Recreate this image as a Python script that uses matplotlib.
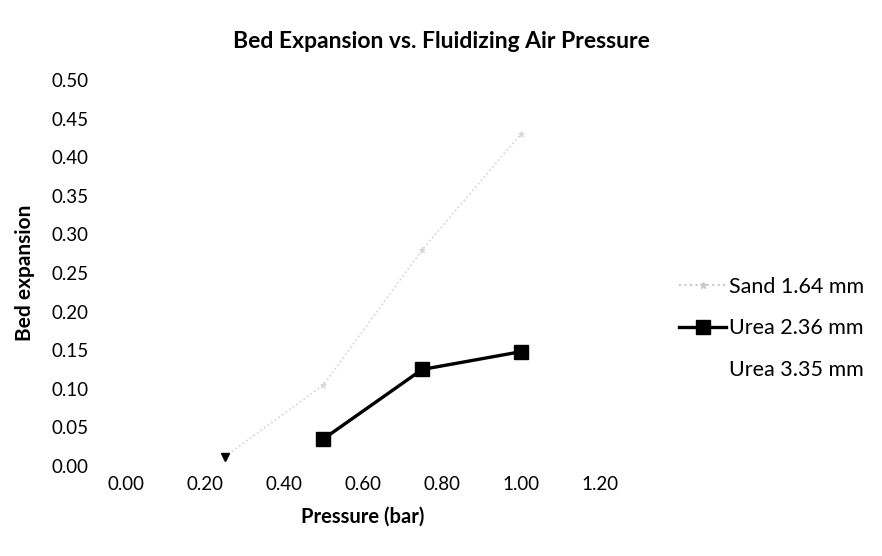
import matplotlib.pyplot as plt
from matplotlib.lines import Line2D

plt.rcParams['font.family'] = ['Lato', 'DejaVu Sans']

# data
pressure = [0.25, 0.50, 0.75, 1.00]
sand_164 = [0.012, 0.105, 0.28, 0.43]
urea_236_p = [0.50, 0.75, 1.00]
urea_236 = [0.035, 0.125, 0.148]
urea_335_p = [0.25, 0.50]
urea_335 = [0.012, 0.035]

xticks = [0.0, 0.2, 0.4, 0.6, 0.8, 1.0, 1.2]
yticks = [0.0, 0.05, 0.1, 0.15, 0.2, 0.25, 0.3, 0.35, 0.4, 0.45, 0.5]

fig = plt.figure(figsize=(8.82, 5.56), dpi=100)
ax = fig.add_axes([0.143, 0.162, 0.537, 0.694])

ax.plot(pressure, sand_164, color='#d4d4d4', linestyle=':', linewidth=1.2,
        marker='*', markersize=5, markeredgewidth=0.5)
ax.plot(urea_236_p, urea_236, color='black', linewidth=2.4,
        marker='s', markersize=10)
ax.plot(urea_335_p, urea_335, color='black', linestyle='none',
        marker='v', markersize=6)

ax.set_xlim(0, 1.2)
ax.set_ylim(0, 0.5)
ax.set_xticks(xticks)
ax.set_yticks(yticks)
ax.set_xticklabels(['%.2f' % v for v in xticks])
ax.set_yticklabels(['%.2f' % v for v in yticks])
ax.tick_params(axis='y', length=0, labelsize=13.5, pad=27)
ax.tick_params(axis='x', length=0, labelsize=13.5, pad=7)
for s in ax.spines.values():
    s.set_visible(False)

ax.set_xlabel('Pressure (bar)', fontsize=14.5, fontweight='bold', labelpad=10)
ax.set_ylabel('Bed expansion', fontsize=15, fontweight='bold', labelpad=12)
fig.suptitle('Bed Expansion vs. Fluidizing Air Pressure', fontsize=16.5,
             fontweight='bold', x=0.5, y=0.945)

handles = [
    Line2D([], [], color='#c8c8c8', linestyle=':', marker='*', markersize=5),
    Line2D([], [], color='black', linewidth=2.4, marker='s', markersize=10),
    Line2D([], [], color='white'),
]
labels = ['Sand 1.64 mm', 'Urea 2.36 mm', 'Urea 3.35 mm']
fig.legend(handles, labels, loc='center left', bbox_to_anchor=(0.748, 0.41),
           frameon=False, fontsize=15.5, labelspacing=1.0, handlelength=2.2,
           handletextpad=0.1)

fig.savefig('out.png', dpi=100)
